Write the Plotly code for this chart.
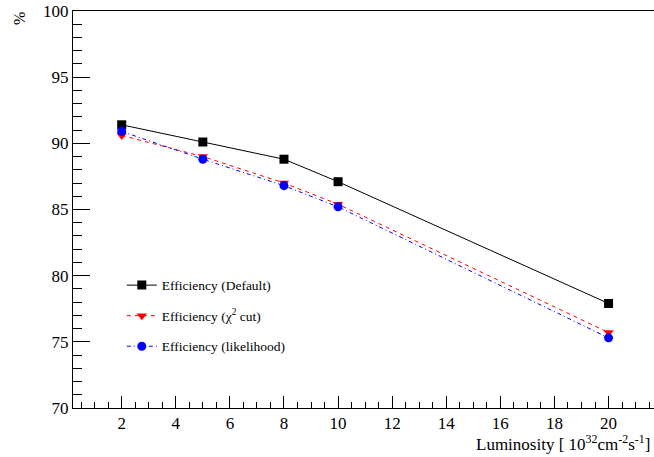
import plotly.graph_objects as go

# Luminosity points (10^32 cm^-2 s^-1)
luminosity = [2, 5, 8, 10, 20]

# Efficiency (%) for each selection method
eff_default = [91.4, 90.1, 88.8, 87.1, 77.9]
eff_chi2 = [90.6, 89.0, 87.0, 85.4, 75.7]
eff_likelihood = [90.9, 88.8, 86.8, 85.2, 75.3]

x_ticks = [2, 4, 6, 8, 10, 12, 14, 16, 18, 20]
y_ticks = [70, 75, 80, 85, 90, 95, 100]

FONT = "Liberation Serif, Times New Roman, serif"

fig = go.Figure()

fig.add_trace(go.Scatter(
    x=luminosity, y=eff_default, mode="lines+markers",
    name="Efficiency (Default)", legendgroup="a",
    line=dict(color="black", width=1),
    marker=dict(symbol="square", size=9, color="black"),
))
fig.add_trace(go.Scatter(
    x=luminosity, y=eff_chi2, mode="lines+markers",
    name="Efficiency (\u03c7<sup>2</sup> cut)", legendgroup="b",
    line=dict(color="red", width=1, dash="4px,4px"),
    marker=dict(symbol="triangle-down", size=9, color="red"),
))
fig.add_trace(go.Scatter(
    x=luminosity, y=eff_likelihood, mode="lines+markers",
    name="Efficiency (likelihood)", legendgroup="c",
    line=dict(color="blue", width=1, dash="4px,3px,1px,3px"),
    marker=dict(symbol="circle", size=9, color="blue"),
))

fig.update_layout(
    width=654, height=457,
    margin=dict(l=73, r=0, t=11, b=49),
    paper_bgcolor="white", plot_bgcolor="white",
    font=dict(family=FONT, size=17, color="black"),
    showlegend=True,
    legend=dict(
        x=0.084, y=0.348, xanchor="left", yanchor="top",
        bgcolor="rgba(0,0,0,0)", borderwidth=0,
        font=dict(family=FONT, size=13.5, color="black"),
        tracegroupgap=10, itemwidth=30,
    ),
    xaxis=dict(
        range=[0.2, 21.68],
        tickvals=x_ticks, ticktext=[str(v) for v in x_ticks],
        ticks="inside", ticklen=12, tickwidth=1, tickcolor="black",
        minor=dict(ticks="inside", ticklen=6, dtick=0.5, tick0=0, tickcolor="black"),
        showline=True, linecolor="black", linewidth=1, mirror=True,
        showgrid=False, zeroline=False,
        tickfont=dict(family=FONT, size=17),
    ),
    yaxis=dict(
        range=[70, 100],
        tickvals=y_ticks, ticktext=[str(v) for v in y_ticks],
        ticks="inside", ticklen=17, tickwidth=1, tickcolor="black",
        minor=dict(ticks="inside", ticklen=9, dtick=1, tick0=70, tickcolor="black"),
        showline=True, linecolor="black", linewidth=1, mirror=False,
        showgrid=False, zeroline=False,
        tickfont=dict(family=FONT, size=17),
    ),
    annotations=[
        dict(
            text="Luminosity [ 10<sup>32</sup>cm<sup>-2</sup>s<sup>-1</sup>]",
            xref="paper", yref="paper", x=1, y=-0.088,
            xanchor="right", yanchor="middle", xshift=-2,
            showarrow=False, font=dict(family=FONT, size=17),
        ),
        dict(
            text="%", textangle=-90,
            xref="paper", yref="paper", x=0, y=1,
            xanchor="center", yanchor="middle", xshift=-54, yshift=-8,
            showarrow=False, font=dict(family=FONT, size=16),
        ),
    ],
)

fig.write_html("out.html")
